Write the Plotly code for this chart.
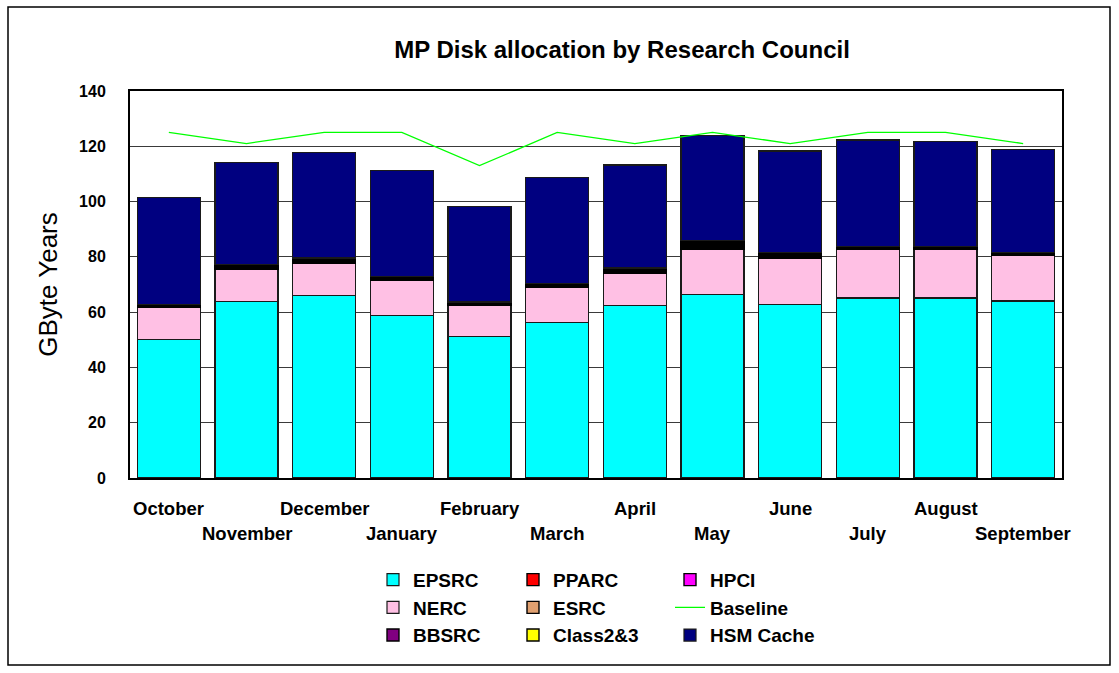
import plotly.graph_objects as go

# Monthly disk allocation (GByte years), stacked by research council
months = ["October", "November", "December", "January", "February", "March",
          "April", "May", "June", "July", "August", "September"]

epsrc = [50.2, 63.9, 65.9, 58.9, 51.2, 56.2, 62.5, 66.5, 62.9, 65.1, 65.1, 64.0]
nerc = [11.6, 11.7, 11.8, 12.8, 11.1, 12.8, 11.7, 16.4, 16.7, 17.6, 17.6, 16.7]
bbsrc = [0.4, 0.4, 0.5, 0.4, 0.4, 0.4, 0.5, 0.6, 0.5, 0.3, 0.3, 0.3]
pparc = [0.2, 0.3, 0.4, 0.3, 0.3, 0.3, 0.4, 0.6, 0.4, 0.2, 0.2, 0.2]
esrc = [0.2, 0.3, 0.4, 0.2, 0.3, 0.3, 0.3, 0.6, 0.4, 0.2, 0.2, 0.2]
class23 = [0.2, 0.3, 0.3, 0.2, 0.2, 0.3, 0.3, 0.6, 0.3, 0.2, 0.2, 0.2]
hpci = [0.1, 0.2, 0.3, 0.2, 0.2, 0.2, 0.3, 0.5, 0.3, 0.1, 0.1, 0.1]
hsm_cache = [38.6, 37.0, 38.2, 38.2, 34.6, 38.1, 37.2, 38.1, 36.8, 38.6, 38.1, 37.1]
baseline = [125, 121, 125, 125, 113, 125, 121, 125, 121, 125, 125, 121]

y_ticks = [0, 20, 40, 60, 80, 100, 120, 140]

FONT = "Liberation Sans, Arial, sans-serif"
OUTLINE = dict(color="#1a1a1a", width=1.2)
THIN_OUTLINE = dict(color="#000000", width=1.4)

fig = go.Figure()

stack = [
    ("EPSRC", epsrc, "#00FFFF", "legend", OUTLINE),
    ("NERC", nerc, "#FFC0E4", "legend", OUTLINE),
    ("BBSRC", bbsrc, "#800080", "legend", THIN_OUTLINE),
    ("PPARC", pparc, "#FF0000", "legend2", THIN_OUTLINE),
    ("ESRC", esrc, "#E0A070", "legend2", THIN_OUTLINE),
    ("Class2&3", class23, "#FFFF00", "legend2", THIN_OUTLINE),
    ("HPCI", hpci, "#FF00FF", "legend3", THIN_OUTLINE),
]
for name, vals, color, leg, outline in stack:
    fig.add_trace(go.Bar(x=months, y=vals, name=name, legend=leg,
                         marker=dict(color=color, line=outline)))

fig.add_trace(go.Scatter(x=months, y=baseline, name="Baseline", mode="lines",
                         legend="legend3", line=dict(color="#00FF00", width=1.3)))
fig.add_trace(go.Bar(x=months, y=hsm_cache, name="HSM Cache", legend="legend3",
                     marker=dict(color="#000080", line=OUTLINE)))

# Staggered month labels under the axis
annotations = []
for i, m in enumerate(months):
    annotations.append(dict(x=m, y=0, xref="x", yref="paper", text=m,
                            showarrow=False, yanchor="middle",
                            yshift=-30 if i % 2 == 0 else -55,
                            font=dict(family=FONT, size=18.5, color="black",
                                      weight="bold")))

legend_common = dict(orientation="v", yanchor="top", y=-0.214,
                     xanchor="left", bgcolor="rgba(0,0,0,0)",
                     font=dict(family=FONT, size=19, color="black", weight="bold"),
                     tracegroupgap=0, itemwidth=30, traceorder="normal")

fig.update_layout(
    width=1119, height=673,
    margin=dict(l=130, r=57, t=91, b=195),
    paper_bgcolor="white", plot_bgcolor="white",
    barmode="stack", bargap=0.19,
    title=dict(text="MP Disk allocation by Research Council",
               x=622 / 1119, xanchor="center",
               y=1 - 50 / 673, yanchor="middle",
               font=dict(family=FONT, size=24, color="black", weight="bold")),
    xaxis=dict(showticklabels=False, showgrid=False, showline=True,
               linecolor="black", linewidth=2, mirror=True, ticks="",
               range=[-0.5, 11.5]),
    yaxis=dict(range=[0, 140], tickvals=y_ticks, showgrid=True,
               gridcolor="#3a3a3a", gridwidth=1, showline=True,
               linecolor="black", linewidth=2, mirror=True, ticks="",
               ticklabelstandoff=19,
               tickfont=dict(family=FONT, size=16, color="black", weight="bold"),
               title=dict(text="GByte Years", standoff=14,
                          font=dict(family=FONT, size=26, color="black"))),
    legend=dict(legend_common, x=(373 - 130) / 932),
    legend2=dict(legend_common, x=(513 - 130) / 932),
    legend3=dict(legend_common, x=(670 - 130) / 932),
    annotations=annotations,
    shapes=[dict(type="rect", xref="paper", yref="paper",
                 x0=(8 - 130) / 932, x1=(1110 - 130) / 932,
                 y0=(478 - 665) / 387, y1=(478 - 7) / 387,
                 line=dict(color="black", width=1.5), layer="below")],
    showlegend=True,
)

fig.write_html("out.html")
